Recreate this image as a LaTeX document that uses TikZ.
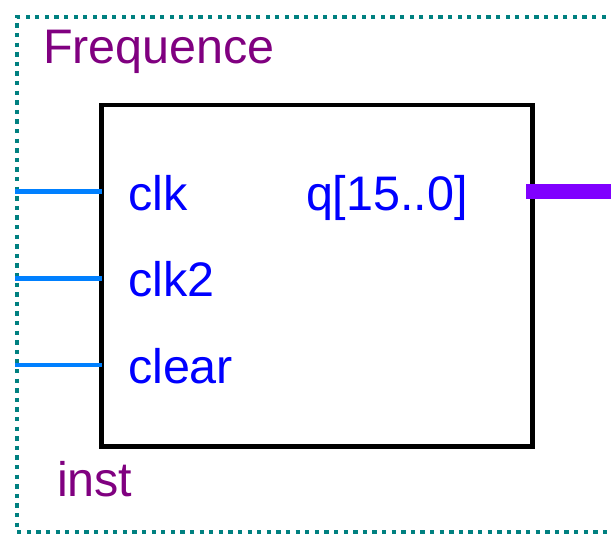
\documentclass[tikz,border=0pt]{standalone}
\usepackage{fontspec}
\setmainfont{Liberation Sans}
\definecolor{instpurple}{RGB}{128,0,128}
\definecolor{portblue}{RGB}{0,0,255}
\definecolor{pinblue}{RGB}{0,128,255}
\definecolor{buspurple}{RGB}{128,0,255}
\definecolor{borderteal}{RGB}{0,128,128}
\tikzset{
  lbl/.style={anchor=base west, inner sep=0pt, outer sep=0pt, font=\fontsize{48.5}{58}\selectfont},
  instlbl/.style={lbl, text=instpurple},
  portlbl/.style={lbl, text=portblue},
  blockbox/.style={draw=black, line width=4.7pt, inner sep=0pt, outer sep=0pt, minimum width=430.8pt, minimum height=341.5pt},
  pinline/.style={draw=pinblue, line width=4.5pt},
  busline/.style={draw=buspurple, line width=15pt},
  dotborder/.style={draw=borderteal, line width=4.3pt, dash pattern=on 4.3pt off 5.3pt}
}
\begin{document}
\begin{tikzpicture}[x=1pt,y=-1pt]
\useasboundingbox (0,0) rectangle (611,536);
% dotted instance border
\coordinate (tr) at (625,17);
\coordinate (tl) at (17,17);
\coordinate (bl) at (17,532);
\coordinate (br) at (625,532);
\draw[dotborder] (tr) -- (tl) -- (bl) -- (br);
% block
\node[blockbox] (blk) at (317.1,275.8) {};
% pins
\coordinate (pclk) at (15,191.7);
\coordinate (pclkb) at (15,278.3);
\coordinate (pclr) at (15,365);
\draw[pinline] (pclk) -- (blk.west |- pclk);
\draw[pinline] (pclkb) -- (blk.west |- pclkb);
\draw[pinline] (pclr) -- (blk.west |- pclr);
% output bus
\coordinate (qo) at (620,191);
\coordinate (qs) at (526,191);
\draw[busline] (qs) -- (qo);
% labels
\node[instlbl] (tname) at (43,63) {Frequence};
\node[instlbl] (iname) at (57,496) {inst};
\node[portlbl] (lclk) at (128,210) {clk};
\node[portlbl] (lclkb) at (128,296) {clk2};
\node[portlbl] (lclr) at (128,383) {clear};
\node[portlbl] (lq) at (306,210) {q[15..0]};
\end{tikzpicture}
\end{document}
